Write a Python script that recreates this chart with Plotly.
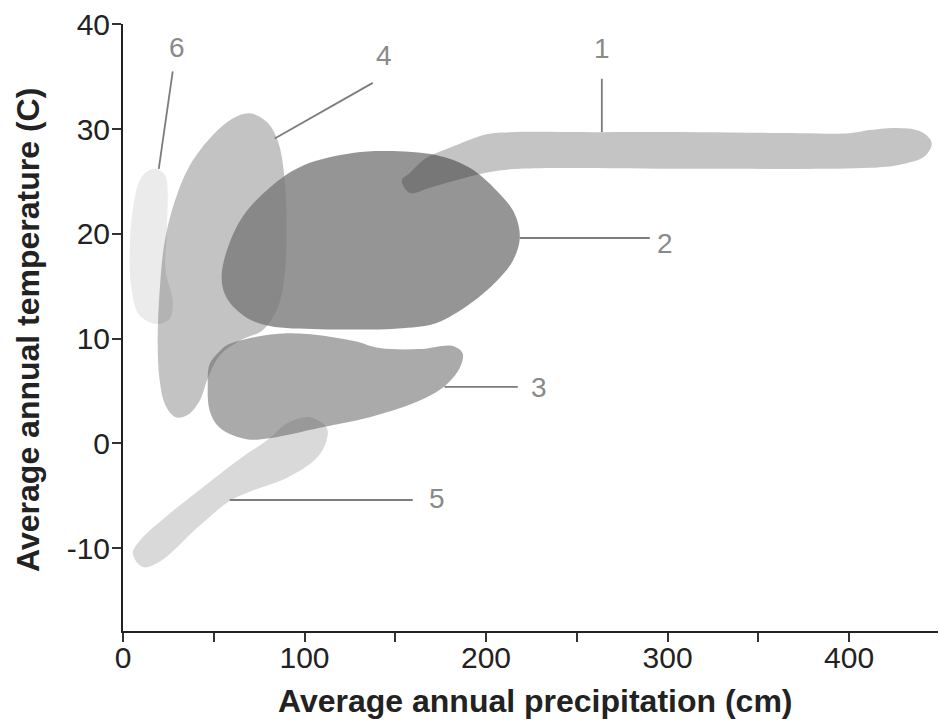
import plotly.graph_objects as go

# ---- Biome outlines (precipitation cm, temperature C) ----
precip_1 = [153.6, 158.0, 166.8, 180.0, 200.4, 213.1, 262.7, 317.8, 372.9, 400.4, 411.4, 425.2, 438.9, 445.5,
            441.7, 427.9, 411.4, 317.8, 218.6, 202.1, 185.5, 169.0, 158.0]
temp_1 = [25.1, 25.8, 27.2, 28.2, 29.5, 29.7, 29.7, 29.7, 29.6, 29.6, 29.9, 30.1, 29.8, 28.7,
          27.4, 26.6, 26.3, 26.2, 26.2, 25.9, 25.2, 24.4, 23.9]

precip_2 = [54.4, 64.3, 80.8, 99.0, 126.5, 145.3, 172.8, 191.0, 205.9, 215.8, 218.6, 214.7, 205.9, 191.0,
            172.8, 154.1, 108.4, 80.8, 68.1, 57.1]
temp_2 = [16.2, 21.2, 24.4, 26.5, 27.7, 27.9, 27.5, 26.3, 24.1, 21.9, 19.6, 17.4, 15.5, 13.3,
          11.5, 11.0, 10.9, 11.2, 12.0, 13.9]

precip_3 = [58.8, 90.2, 126.5, 141.4, 163.4, 181.6, 187.1, 185.5, 176.1, 159.6, 135.9, 108.4, 80.8, 68.1,
            53.3, 47.8, 46.7, 47.8, 53.3]
temp_3 = [9.5, 10.5, 9.8, 9.1, 9.0, 9.3, 8.6, 7.2, 5.3, 3.8, 2.5, 1.5, 0.5, 0.4,
          1.5, 3.1, 5.7, 7.6, 8.8]

precip_4 = [69.8, 79.7, 85.2, 88.5, 90.2, 88.5, 84.7, 76.9, 64.3, 53.3, 46.7, 42.3, 35.6, 29.0,
            23.5, 20.2, 19.1, 20.2, 23.0, 28.5, 36.7, 49.4, 60.4]
temp_4 = [31.5, 30.6, 28.9, 26.1, 20.1, 15.3, 12.7, 10.8, 9.8, 8.4, 6.2, 4.1, 2.7, 2.5,
          3.6, 6.0, 9.8, 14.6, 19.3, 23.1, 26.5, 29.4, 31.0]

precip_5 = [102.9, 112.2, 112.2, 106.7, 90.2, 71.5, 58.8, 40.6, 20.2, 10.9, 5.4, 9.2, 25.7, 43.9,
            62.6, 80.8, 90.2]
temp_5 = [2.5, 1.5, 0.3, -1.4, -3.3, -4.5, -5.5, -8.1, -11.3, -11.8, -10.5, -9.3, -6.7, -4.2,
          -1.7, 0.5, 1.9]

precip_6 = [18.6, 23.5, 24.6, 24.1, 23.5, 27.4, 25.7, 18.6, 9.2, 4.8, 3.7, 5.3, 9.2, 13.6]
temp_6 = [26.2, 25.5, 24.1, 20.0, 16.5, 13.6, 11.9, 11.4, 12.2, 14.6, 18.4, 22.2, 25.1, 26.0]

# ---- Labels and leader lines ----
label_text = ["1", "2", "3", "4", "5", "6"]
label_x = [263.8, 298.5, 229.0, 143.6, 172.8, 29.7]
label_y = [37.7, 19.1, 5.3, 37.0, -5.3, 37.8]
leader_x0 = [263.8, 218.6, 177.2, 137.6, 58.8, 27.4]
leader_y0 = [34.8, 19.6, 5.4, 34.4, -5.4, 35.5]
leader_x1 = [263.8, 290.2, 217.5, 83.6, 159.6, 19.7]
leader_y1 = [29.7, 19.6, 5.4, 29.1, -5.4, 26.2]

# ---- Axis ticks ----
x_tickvals = [0, 50, 100, 150, 200, 250, 300, 350, 400]
x_ticktext = ["0", "", "100", "", "200", "", "300", "", "400"]
y_tickvals = [-10, 0, 10, 20, 30, 40]
y_ticktext = ["-10", "0", "10", "20", "30", "40"]

FONT = "Liberation Sans, Arial, sans-serif"

shapes = [
    (precip_6, temp_6, "rgba(0,0,0,0.08)"),
    (precip_4, temp_4, "rgba(0,0,0,0.235)"),
    (precip_2, temp_2, "rgba(119,119,119,0.78)"),
    (precip_1, temp_1, "rgba(44,44,44,0.28)"),
    (precip_3, temp_3, "rgba(100,100,100,0.55)"),
    (precip_5, temp_5, "rgba(101,101,101,0.247)"),
]

fig = go.Figure()
for xs, ys, col in shapes:
    fig.add_trace(go.Scatter(
        x=list(xs) + [xs[0]], y=list(ys) + [ys[0]],
        mode="lines", fill="toself", fillcolor=col,
        line=dict(shape="spline", smoothing=1.0, width=0, color=col),
        hoverinfo="skip", showlegend=False))

for i in range(len(label_text)):
    fig.add_trace(go.Scatter(
        x=[leader_x0[i], leader_x1[i]], y=[leader_y0[i], leader_y1[i]],
        mode="lines", line=dict(color="#7c7c7c", width=1.8),
        hoverinfo="skip", showlegend=False))
    fig.add_annotation(x=label_x[i], y=label_y[i], text=label_text[i],
                       showarrow=False, xanchor="center", yanchor="middle",
                       font=dict(family=FONT, size=28, color="#8a8a8a"))

fig.add_annotation(xref="paper", yref="paper", x=0.505, y=-0.115,
                   text="<b>Average annual precipitation (cm)</b>", showarrow=False,
                   xanchor="center", yanchor="middle",
                   font=dict(family=FONT, size=32, color="#222222"))
fig.add_annotation(xref="paper", yref="paper", x=-0.1166, y=0.496,
                   text="<b>Average annual temperature (C)</b>", showarrow=False,
                   textangle=-90, xanchor="center", yanchor="middle",
                   font=dict(family=FONT, size=32, color="#222222"))

fig.update_layout(
    width=940, height=724,
    margin=dict(l=123, r=2, t=24, b=93),
    paper_bgcolor="white", plot_bgcolor="white",
    showlegend=False,
    xaxis=dict(range=[0, 449], tickvals=x_tickvals, ticktext=x_ticktext,
               showgrid=False, zeroline=False, showline=True, linecolor="#222222", linewidth=2,
               ticks="outside", ticklen=9, tickwidth=2, tickcolor="#333333",
               ticklabelstandoff=-10,
               tickfont=dict(family=FONT, size=30, color="#222222")),
    yaxis=dict(range=[-17.9, 40.02], tickvals=y_tickvals, ticktext=y_ticktext,
               showgrid=False, zeroline=False, showline=True, linecolor="#222222", linewidth=2,
               ticks="outside", ticklen=9, tickwidth=2, tickcolor="#333333",
               ticklabelstandoff=-4,
               tickfont=dict(family=FONT, size=30, color="#222222")),
)

fig.write_html("out.html", config={"displayModeBar": False},
               post_script="document.body.style.margin='0';document.body.style.overflow='hidden';")
